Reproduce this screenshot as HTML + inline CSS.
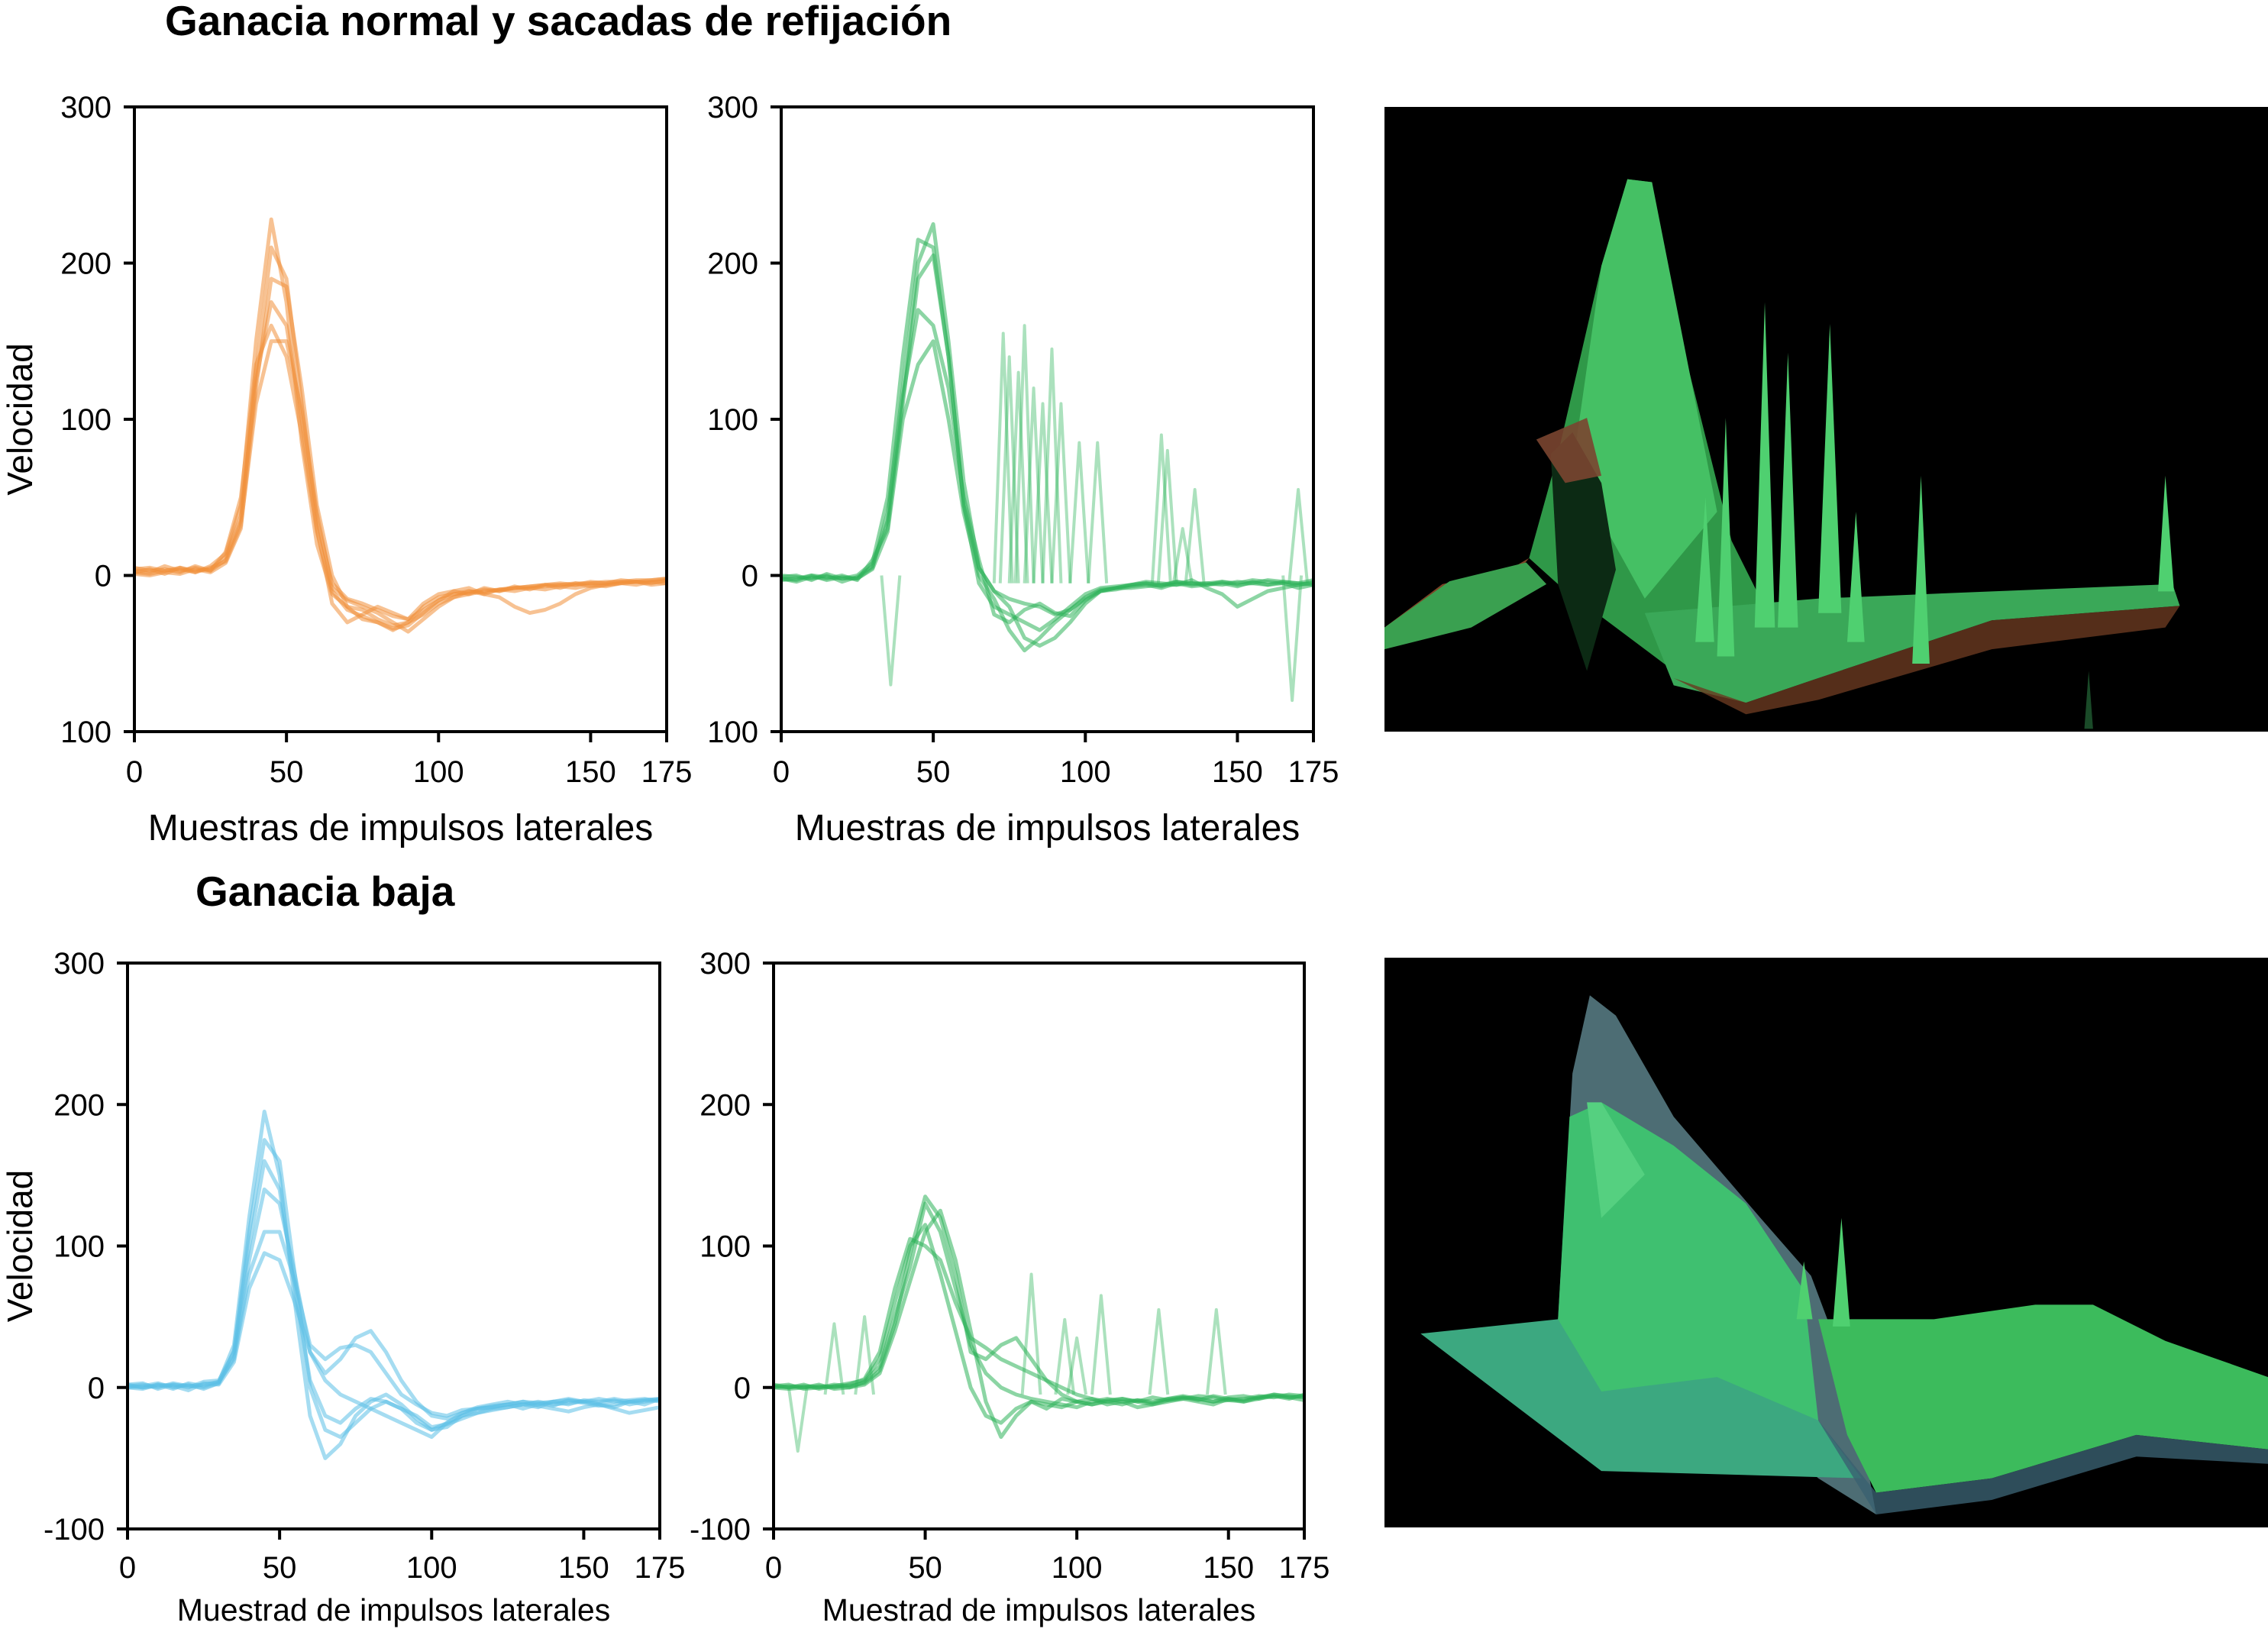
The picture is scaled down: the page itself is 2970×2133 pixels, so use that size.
<!DOCTYPE html>
<html><head><meta charset="utf-8">
<style>
html,body{margin:0;padding:0;background:#fff;}
body{width:2970px;height:2133px;position:relative;overflow:hidden;font-family:"Liberation Sans",Arial,sans-serif;}
svg{position:absolute;left:0;top:0;}
</style></head>
<body>
<svg id="main" width="2970" height="2133" viewBox="0 0 2970 2133" xmlns="http://www.w3.org/2000/svg">
  <text x="216" y="46" font-size="55" font-weight="bold" fill="#000">Ganacia normal y sacadas de refijación</text>
  <text x="256" y="1186" font-size="55" font-weight="bold" fill="#000">Ganacia baja</text>

  <svg x="1813" y="140" width="1157" height="818" viewBox="0 0 611 432" preserveAspectRatio="none">
    <rect width="611" height="432" fill="#000"/>
    <polygon points="0,360 40,330 95,318 100,312 0,370" fill="#8a4a2a" opacity="0.9"/>
    <polygon points="0,360 45,328 98,315 112,330 60,360 0,375" fill="#3aa050"/>
    <polygon points="100,312 120,240 150,110 168,50 185,52 200,140 240,300 270,360 200,390 120,330" fill="#2f9848"/>
    <polygon points="150,110 168,50 185,52 230,280 180,340 130,250" fill="#45c064"/>
    <polygon points="115,240 130,225 150,260 160,320 140,390 120,330" fill="#0c2a14"/>
    <polygon points="105,230 140,215 150,255 125,260" fill="#7a4530" opacity="0.9"/>
    <polygon points="180,350 300,340 420,335 545,330 550,345 420,355 300,395 250,412 200,400" fill="#3aa858"/>
    <polygon points="200,395 250,412 300,395 420,355 550,345 540,360 420,375 300,410 250,420" fill="#6a3a20" opacity="0.8"/>
    <g fill="#4fd070">
      <polygon points="230,380 236,215 242,380"/>
      <polygon points="256,360 263,135 270,360"/>
      <polygon points="272,360 279,170 286,360"/>
      <polygon points="300,350 308,150 316,350"/>
      <polygon points="365,385 371,255 377,385"/>
      <polygon points="535,335 540,255 546,335"/>
      <polygon points="215,370 222,270 228,370"/>
      <polygon points="320,370 326,280 332,370"/>
    </g>
    <polygon points="484,430 487,390 490,430" fill="#1a4a28"/>
  </svg>

  <svg x="1813" y="1254" width="1157" height="746" viewBox="0 0 611 394" preserveAspectRatio="none">
    <rect width="611" height="394" fill="#000"/>
    <polygon points="120,250 130,80 142,26 160,40 200,110 260,180 295,220 310,260 330,330 340,385 300,360 230,300 150,340" fill="#5a8088" opacity="0.85"/>
    <polygon points="25,260 120,250 230,270 300,320 330,360 150,355" fill="#3ca880"/>
    <polygon points="120,250 128,110 150,100 200,130 250,170 290,230 300,320 230,290 150,300" fill="#3fc070"/>
    <polygon points="140,100 150,100 180,150 150,180" fill="#55d080"/>
    <polygon points="300,250 380,250 450,240 490,240 540,265 611,290 611,340 520,330 420,360 340,370 320,330" fill="#3cbb5c"/>
    <polygon points="300,320 340,370 420,360 520,330 611,340 611,350 520,345 420,375 340,385" fill="#3a6070" opacity="0.8"/>
    <polygon points="310,255 316,180 322,255" fill="#4fd070"/>
    <polygon points="285,250 290,210 296,250" fill="#4fd070"/>
  </svg>
</svg>

<script>
const xTicks = [0, 50, 100, 150, 175];
const yTicksTop = [300, 200, 100, 0, -100];
const yTickLabelsTop = ["300", "200", "100", "0", "100"];
const yTickLabelsBottom = ["300", "200", "100", "0", "-100"];
const sampleX = [0,5,10,15,20,25,30,35,40,45,50,55,60,65,70,75,80,85,90,95,100,105,110,115,120,125,130,135,140,145,150,155,160,165,170,175];

const orange1 = [4,5,3,4,2,6,14,45,150,228,175,85,20,-12,-20,-22,-28,-32,-30,-20,-14,-12,-10,-11,-9,-8,-7,-6,-5,-6,-4,-5,-3,-4,-3,-2];
const orange2 = [3,2,6,3,5,3,10,35,130,210,190,110,35,-5,-15,-18,-22,-26,-28,-22,-16,-10,-12,-8,-10,-7,-9,-6,-8,-5,-7,-6,-5,-4,-6,-5];
const orange3 = [1,0,2,1,4,2,8,30,120,190,185,120,45,0,-20,-28,-30,-35,-30,-25,-18,-14,-10,-12,-9,-10,-8,-9,-7,-8,-6,-7,-5,-6,-4,-5];
const orange4 = [2,4,1,5,3,4,12,38,125,175,160,100,30,-18,-30,-25,-20,-24,-28,-18,-12,-10,-8,-12,-14,-20,-24,-22,-18,-12,-8,-6,-5,-4,-5,-3];
const orange5 = [5,3,4,2,6,3,15,50,135,160,140,90,28,-10,-22,-26,-30,-34,-32,-24,-16,-12,-11,-9,-10,-8,-8,-7,-6,-6,-5,-5,-4,-4,-4,-3];
const orange6 = [2,1,3,5,2,5,9,32,110,150,150,105,40,-8,-16,-20,-24,-30,-36,-28,-20,-14,-12,-10,-9,-8,-7,-6,-6,-5,-5,-4,-4,-3,-3,-2];

const green1 = [-3,-2,0,-3,-1,-2,5,40,120,200,225,150,60,5,-10,-15,-18,-20,-25,-22,-15,-10,-8,-6,-5,-6,-4,-5,-6,-4,-5,-3,-4,-5,-6,-4];
const green2 = [-1,0,-3,1,-2,0,8,50,140,215,210,140,45,-5,-20,-25,-30,-35,-28,-20,-12,-8,-7,-6,-5,-7,-4,-6,-5,-4,-6,-5,-3,-4,-5,-6];
const green3 = [-2,-4,-1,-2,0,-3,10,30,110,190,205,140,45,5,-10,-20,-40,-45,-40,-30,-18,-10,-8,-6,-4,-5,-6,-3,-8,-12,-20,-15,-10,-8,-6,-5];
const green4 = [0,-1,-2,0,-4,-1,6,35,115,170,160,120,50,10,-25,-30,-22,-18,-24,-26,-16,-10,-9,-7,-6,-8,-5,-7,-6,-5,-7,-4,-6,-5,-8,-6];
const green5 = [-2,-3,0,-1,-2,-2,4,28,100,135,150,100,40,0,-15,-35,-48,-40,-30,-22,-14,-9,-8,-8,-7,-6,-6,-5,-5,-6,-4,-5,-6,-4,-5,-3];
const greenSpikeX = [36,73,75,78,80,83,86,89,92,98,104,125,127,132,136,168,170];
const greenSpikeY = [-70,155,140,130,160,120,110,145,110,85,85,90,80,30,55,-80,55];

const blue1 = [1,0,2,-1,3,1,4,30,120,195,150,60,-20,-50,-40,-20,-10,-5,-12,-22,-30,-28,-20,-18,-15,-14,-12,-10,-12,-11,-10,-8,-10,-9,-8,-10];
const blue2 = [2,3,-1,2,0,4,5,25,110,175,160,80,0,-30,-35,-25,-15,-10,-15,-25,-30,-25,-18,-15,-14,-12,-15,-12,-10,-12,-9,-10,-8,-10,-9,-8];
const blue3 = [0,1,3,0,2,-1,3,22,90,140,130,80,25,10,20,35,40,25,5,-10,-20,-22,-18,-14,-12,-10,-12,-14,-10,-8,-10,-12,-14,-10,-12,-8];
const blue4 = [1,2,0,3,1,2,4,20,80,110,110,75,30,20,28,30,25,10,-5,-12,-18,-20,-16,-15,-13,-12,-10,-11,-13,-9,-10,-11,-9,-12,-10,-9];
const blue5 = [0,-1,2,1,-2,3,2,18,70,95,90,60,25,5,-5,-10,-15,-20,-25,-30,-35,-25,-20,-15,-14,-12,-10,-13,-15,-17,-14,-12,-15,-18,-16,-14];
const blue6 = [2,0,1,2,1,0,3,26,100,160,140,70,5,-20,-25,-15,-8,-10,-15,-20,-28,-26,-22,-18,-16,-14,-12,-11,-10,-9,-11,-13,-12,-10,-9,-8];

const lowGreen1 = [1,0,2,-1,1,3,5,20,60,100,115,80,40,0,-20,-25,-15,-10,-12,-14,-10,-8,-10,-12,-9,-10,-8,-6,-8,-10,-7,-6,-8,-5,-7,-6];
const lowGreen2 = [0,1,0,2,-1,0,4,15,50,85,130,110,70,30,10,0,-5,-8,-10,-12,-14,-10,-8,-10,-9,-11,-8,-7,-9,-6,-8,-10,-7,-5,-6,-7];
const lowGreen3 = [2,0,1,0,2,1,3,12,45,95,135,120,80,25,20,30,35,20,5,-5,-10,-12,-10,-8,-10,-12,-9,-7,-8,-10,-9,-8,-6,-7,-5,-6];
const lowGreen4 = [0,-1,0,1,0,2,6,25,70,105,100,90,60,35,28,20,15,10,5,0,-5,-8,-12,-10,-14,-12,-10,-8,-10,-12,-8,-9,-7,-6,-8,-5];
const lowGreen5 = [1,2,-1,0,1,0,2,10,40,75,110,125,90,40,-10,-35,-20,-10,-15,-8,-10,-12,-9,-8,-10,-7,-9,-8,-6,-7,-9,-10,-8,-6,-7,-9];
const lowGreenSpikeX = [8,20,30,85,96,100,108,127,146];
const lowGreenSpikeY = [-45,45,50,80,48,35,65,55,55];

const NS = "http://www.w3.org/2000/svg";
const root = document.getElementById("main");
function mk(tag, attrs, parent){
  const e = document.createElementNS(NS, tag);
  for (const k in attrs) e.setAttribute(k, attrs[k]);
  (parent||root).appendChild(e);
  return e;
}

function panel(cfg){
  const g = mk("g", {});
  
  
  const L=cfg.left, R=cfg.right, T=cfg.top, B=cfg.bottom;
  const sx = v => L + (v/175)*(R-L);
  const sy = v => B - ((v+100)/400)*(B-T);
  const series = mk("g", {}, g);
  
  
  cfg.traces.forEach((tr, i) => {
    const pts = sampleX.map((x, j) => sx(x).toFixed(1)+","+sy(tr[j]).toFixed(1)).join(" ");
    const p = mk("polyline", {points: pts, fill:"none", stroke: cfg.color, "stroke-width": 5, "stroke-opacity": 0.55, "stroke-linejoin":"round"}, series);
    
    
  });
  if (cfg.spikeX){
    cfg.spikeX.forEach((x, i) => {
      const h = cfg.spikeY[i];
      const base = h > 0 ? -5 : 0;
      const pts = [sx(x-3)+","+sy(base), sx(x)+","+sy(h), sx(x+3)+","+sy(base)].join(" ");
      const p = mk("polyline", {points: pts, fill:"none", stroke: cfg.color, "stroke-width": 4, "stroke-opacity": 0.4, "stroke-linejoin":"round"}, series);
      
      
    });
  }
  const fr = mk("rect", {x:L, y:T, width:R-L, height:B-T, fill:"none", stroke:"#000", "stroke-width":4}, g);
  
  
  yTicksTop.forEach((v, i) => {
    const y = sy(v);
    mk("line", {x1:L-14, x2:L, y1:y, y2:y, stroke:"#000", "stroke-width":4}, g);
    const t = mk("text", {x:L-30, y:y+14, "font-size":40, "text-anchor":"end", fill:"#000"}, g);
    t.textContent = cfg.yLabels[i];
    
    
  });
  xTicks.forEach(v => {
    const x = sx(v);
    mk("line", {x1:x, x2:x, y1:B, y2:B+14, stroke:"#000", "stroke-width":4}, g);
    const t = mk("text", {x:x, y:cfg.xTickY, "font-size":40, "text-anchor":"middle", fill:"#000"}, g);
    t.textContent = String(v);
    
    
  });
  const xl = mk("text", {x:(L+R)/2, y:cfg.xLabelY, "font-size":cfg.xLabelSize, "text-anchor":"middle", fill:"#000"}, g);
  xl.textContent = cfg.xLabel;
  
  
  if (cfg.yTitle){
    const cy = (T+B)/2;
    const yl = mk("text", {x:0, y:0, "font-size":46, "text-anchor":"middle", fill:"#000", transform:"translate(42,"+cy+") rotate(-90)"}, g);
    yl.textContent = "Velocidad";
    
    
  }
}

panel({name:"panel-normal-gain-orange", left:176, right:873, top:140, bottom:958, color:"#f0903a",
  traces:[orange1,orange2,orange3,orange4,orange5,orange6], yLabels:yTickLabelsTop,
  xTickY:1024, xLabel:"Muestras de impulsos laterales", xLabelY:1100, xLabelSize:48, yTitle:true});
panel({name:"panel-refixation-green", left:1023, right:1720, top:140, bottom:958, color:"#2db35a",
  traces:[green1,green2,green3,green4,green5], spikeX:greenSpikeX, spikeY:greenSpikeY, yLabels:yTickLabelsTop,
  xTickY:1024, xLabel:"Muestras de impulsos laterales", xLabelY:1100, xLabelSize:48, yTitle:false});
panel({name:"panel-low-gain-blue", left:167, right:864, top:1261, bottom:2002, color:"#5bc0e6",
  traces:[blue1,blue2,blue3,blue4,blue5,blue6], yLabels:yTickLabelsBottom,
  xTickY:2066, xLabel:"Muestrad de impulsos laterales", xLabelY:2122, xLabelSize:41, yTitle:true});
panel({name:"panel-low-gain-green", left:1013, right:1708, top:1261, bottom:2002, color:"#2db35a",
  traces:[lowGreen1,lowGreen2,lowGreen3,lowGreen4,lowGreen5], spikeX:lowGreenSpikeX, spikeY:lowGreenSpikeY, yLabels:yTickLabelsBottom,
  xTickY:2066, xLabel:"Muestrad de impulsos laterales", xLabelY:2122, xLabelSize:41, yTitle:false});
</script>
</body></html>
